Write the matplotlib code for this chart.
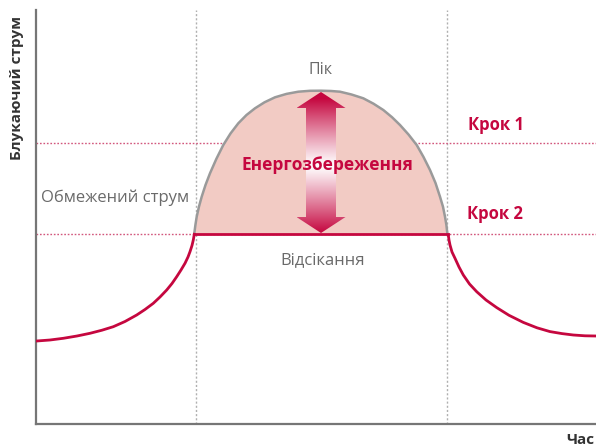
import numpy as np
import matplotlib.pyplot as plt
from matplotlib.patches import Polygon

plt.rcParams['font.family'] = ['Open Sans', 'DejaVu Sans']

# chart coordinates (x = time, y = current, drawn with y axis inverted, pixel-like units)
left_x = [36.7, 50, 63.3, 77, 90, 102, 113.3, 125, 136.7, 145, 153.3, 160, 166.7,
          172, 176.7, 181, 185, 188, 190, 192, 193.3, 194.3]
left_y = [341, 340, 338.3, 336, 333.3, 330.2, 326.7, 321.5, 315, 309.5, 303.3, 297, 290,
          283.5, 276.7, 270, 263.3, 257, 251.7, 245.5, 240, 234.3]
right_x = [448.3, 449, 450, 452, 455, 459, 463.3, 469.5, 476.7, 486, 496.7, 509, 523.3,
           537, 550, 562, 573.3, 585, 596]
right_y = [235, 240, 245, 252, 258.3, 267, 275, 284, 291.7, 300, 307.6, 315.3, 322.4,
           327.8, 331.6, 333.6, 335, 335.8, 336]
dome_x = [194.3, 195.4, 196.7, 199, 201.7, 205.5, 210, 216.3, 223.3, 230.5, 238.3,
          246.5, 255, 264.5, 275, 286.5, 298.3, 310, 321,
          331, 340, 351.5, 363.3, 373.5, 383.3, 392, 400, 408.5, 416.7, 423.5, 430,
          435.5, 440, 443, 445, 446.4, 447.3]
dome_y = [233.3, 225, 216.7, 206.5, 196.7, 185, 173.3, 159, 145, 133.5, 123.3,
          115, 108.3, 102.3, 97.3, 93.9, 91.7, 90.8, 90.7,
          91, 91.7, 94.5, 98.3, 103.7, 110, 117.2, 125, 134.5, 145, 157, 170,
          183, 196.7, 206.8, 216.7, 225, 233.3]
cut_level = 234
step1_level = 143
phase_x = [196, 447]
arrow_x = 321
arrow_top, arrow_bottom = 92, 233

crimson = '#c5073f'
pink_fill = '#f2cbc4'
dot_pink = '#d2577d'
gray_txt = '#6a6a6a'

fig = plt.figure(figsize=(5.96, 4.48), dpi=100)
ax = fig.add_axes([36 / 596, 24 / 448, 560 / 596, 414 / 448])
ax.set_xticks([])
ax.set_yticks([])
for s in ['top', 'right']:
    ax.spines[s].set_visible(False)
for s in ['left', 'bottom']:
    ax.spines[s].set_color('#767676')
    ax.spines[s].set_linewidth(1.6)

# guide lines
for px in phase_x:
    ax.axvline(px, color='#b0b0b0', lw=1, ls=(0, (1.5, 1.5)), zorder=1)
for ly in [step1_level, cut_level]:
    ax.axhline(ly, color=dot_pink, lw=1, ls=(0, (1.2, 1.3)), zorder=1)

# peak dome
ax.fill_between(dome_x, dome_y, cut_level, color=pink_fill, lw=0, zorder=2)
ax.plot(dome_x, dome_y, color='#9a9a9a', lw=1.8, zorder=3, solid_capstyle='round')

# current curve with cut
ax.plot(left_x, left_y, color=crimson, lw=2, zorder=4)
ax.plot(right_x, right_y, color=crimson, lw=2, zorder=4)
ax.plot([left_x[-1], right_x[0]], [cut_level, cut_level], color=crimson, lw=2, zorder=4)

# gradient double arrow
hw, sw, hl = 24.5, 15, 16
poly = Polygon([(arrow_x, arrow_top), (arrow_x + hw, arrow_top + hl), (arrow_x + sw, arrow_top + hl),
                (arrow_x + sw, arrow_bottom - hl), (arrow_x + hw, arrow_bottom - hl), (arrow_x, arrow_bottom),
                (arrow_x - hw, arrow_bottom - hl), (arrow_x - sw, arrow_bottom - hl),
                (arrow_x - sw, arrow_top + hl), (arrow_x - hw, arrow_top + hl)],
               closed=True, fc='none', ec='none', transform=ax.transData)
ax.add_patch(poly)
rows = np.linspace(arrow_top, arrow_bottom, 200)
mid = 166
t = np.clip(np.abs(rows - mid) / (arrow_bottom - mid), 0, 1) ** 1.1
c = np.array([0xc5, 0x07, 0x3f]) / 255
img = 1 - t[:, None] * (1 - c[None, :])
img = np.repeat(img[:, None, :], 2, axis=1)
im = ax.imshow(img, extent=[arrow_x - hw, arrow_x + hw, arrow_bottom, arrow_top],
               aspect='auto', zorder=5, interpolation='bilinear')
im.set_clip_path(poly)
ax.set_xlim(36, 596)
ax.set_ylim(424, 10)

# labels
ax.text(arrow_x, 70, 'Пік', ha='center', va='center', fontsize=11.5, color=gray_txt, zorder=6)
ax.text(327, 165, 'Енергозбереження', ha='center', va='center', fontsize=12.5,
        fontweight='bold', color=crimson, zorder=6)
ax.text(115, 198, 'Обмежений струм', ha='center', va='center', fontsize=12, color=gray_txt, zorder=6)
ax.text(323, 260, 'Відсікання', ha='center', va='center', fontsize=12, color=gray_txt, zorder=6)
ax.text(468, 125, 'Крок 1', ha='left', va='center', fontsize=12, fontweight='bold', color=crimson)
ax.text(467, 214, 'Крок 2', ha='left', va='center', fontsize=12, fontweight='bold', color=crimson)
ax.text(566, 440, 'Час', ha='left', va='center', fontsize=11, fontweight='bold',
        color='#333333', clip_on=False)
fig.text(17 / 596, 1 - 88 / 448, 'Блукаючий струм', rotation=90, ha='center', va='center',
         fontsize=11, fontweight='bold', color='#333333')

fig.savefig('out.png', dpi=100)
